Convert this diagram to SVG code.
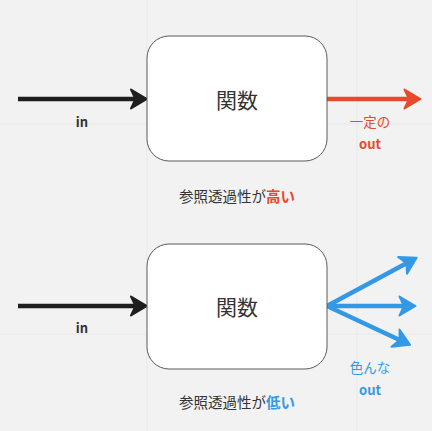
<svg xmlns="http://www.w3.org/2000/svg" width="432" height="431" viewBox="0 0 432 431">
<style>
text{font-family:"Noto Sans CJK JP","Noto Sans",sans-serif;dominant-baseline:central;text-anchor:middle}
.box{fill:#ffffff;stroke:#5a5a5a;stroke-width:1}
.t{font-size:21px;fill:#333}
.lbl{font-size:13px;font-weight:bold;fill:#333}
.cap{font-size:14.5px;fill:#333}
.red{fill:#e8492c}
.blue{fill:#3399e6}
.b{font-weight:bold}
.grid{stroke:#e8e8e8;stroke-width:1}
</style>
<defs>
<marker id="ah-k" markerUnits="userSpaceOnUse" markerWidth="19" markerHeight="22" viewBox="0 0 19 22" refX="6" refY="11" orient="auto"><path d="M1.5,1.5 L17.5,11 L1.5,20.5 L6,11 Z" fill="#1e1e1e" stroke="#1e1e1e" stroke-width="2" stroke-linejoin="round"/></marker>
<marker id="ah-r" markerUnits="userSpaceOnUse" markerWidth="19" markerHeight="22" viewBox="0 0 19 22" refX="6" refY="11" orient="auto"><path d="M1.5,1.5 L17.5,11 L1.5,20.5 L6,11 Z" fill="#e8492c" stroke="#e8492c" stroke-width="2" stroke-linejoin="round"/></marker>
<marker id="ah-b" markerUnits="userSpaceOnUse" markerWidth="19" markerHeight="22" viewBox="0 0 19 22" refX="6" refY="11" orient="auto"><path d="M1.5,1.5 L17.5,11 L1.5,20.5 L6,11 Z" fill="#3399e6" stroke="#3399e6" stroke-width="2" stroke-linejoin="round"/></marker>
</defs>
<rect width="432" height="431" fill="#f2f2f2"/>
<g id="grid">
<line class="grid" x1="147" y1="0" x2="147" y2="431"/>
<line class="grid" x1="357" y1="0" x2="357" y2="431"/>
<line class="grid" x1="0" y1="124" x2="432" y2="124"/>
<line class="grid" x1="0" y1="334" x2="432" y2="334"/>
</g>
<g id="connectors" fill="none" stroke-width="4.5">
<line x1="18" y1="99" x2="135.5" y2="99" stroke="#1e1e1e" marker-end="url(#ah-k)"/>
<line x1="327" y1="99" x2="409" y2="99" stroke="#e8492c" marker-end="url(#ah-r)"/>
<line x1="18" y1="306" x2="135.5" y2="306" stroke="#1e1e1e" marker-end="url(#ah-k)"/>
<line x1="327" y1="306" x2="406.5" y2="263.2" stroke="#3399e6" marker-end="url(#ah-b)"/>
<line x1="327" y1="306" x2="404" y2="306" stroke="#3399e6" marker-end="url(#ah-b)"/>
<line x1="327" y1="306" x2="399.6" y2="340" stroke="#3399e6" marker-end="url(#ah-b)"/>
</g>
<g id="func1">
<rect class="box" x="147" y="36" width="180" height="125" rx="22"/>
<text class="t" x="237" y="99">関数</text>
</g>
<g id="func2">
<rect class="box" x="147" y="244" width="180" height="125" rx="22"/>
<text class="t" x="237" y="306">関数</text>
</g>
<g id="labels1">
<text class="lbl" x="82" y="121">in</text>
<text class="red" x="370" y="121" font-size="13.5">一定の</text>
<text class="lbl red" x="370" y="143">out</text>
<text class="cap" x="237" y="195">参照透過性が<tspan class="red b">高い</tspan></text>
</g>
<g id="labels2">
<text class="lbl" x="82" y="327">in</text>
<text class="blue" x="370" y="367" font-size="13.5">色んな</text>
<text class="lbl blue" x="370" y="389">out</text>
<text class="cap" x="237" y="401">参照透過性が<tspan class="blue b">低い</tspan></text>
</g>
</svg>
